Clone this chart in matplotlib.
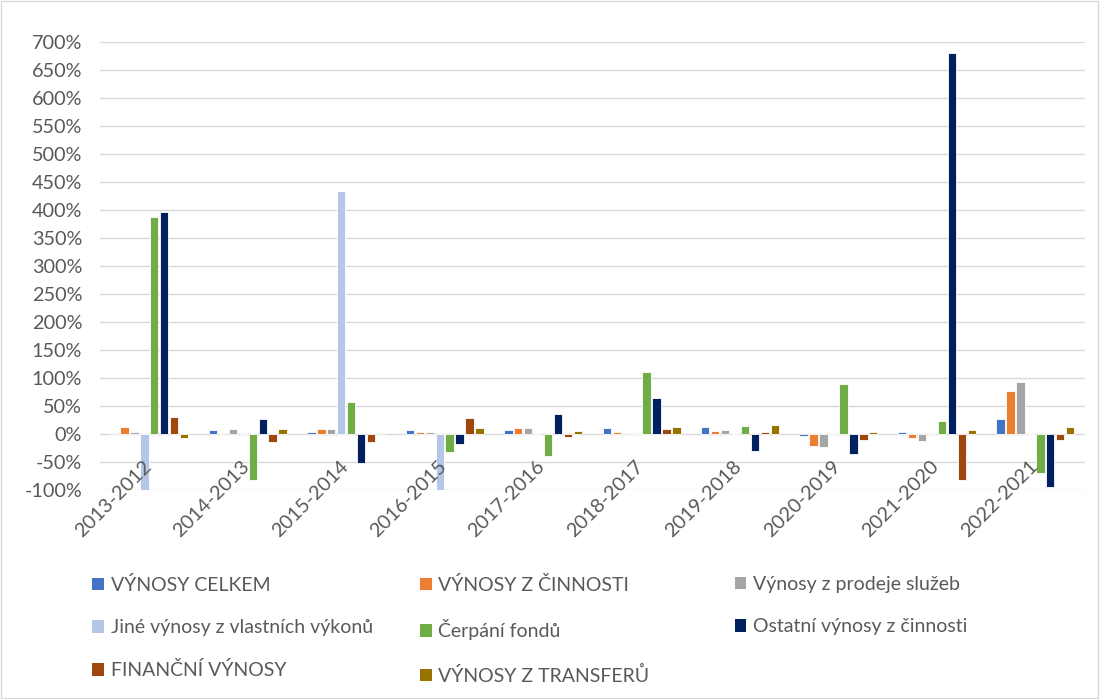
import numpy as np
import matplotlib
matplotlib.use("Agg")
import matplotlib.pyplot as plt
from matplotlib.patches import Rectangle, Patch
from matplotlib.transforms import ScaledTranslation

plt.rcParams['font.family'] = ['Lato', 'DejaVu Sans']

# Data (values in %)
periods = ['2013-2012', '2014-2013', '2015-2014', '2016-2015', '2017-2016',
           '2018-2017', '2019-2018', '2020-2019', '2021-2020', '2022-2021']

vynosy_celkem = [1, 7, 4, 8, 7, 10, 12.5, -4, 3, 27]
vynosy_z_cinnosti = [12, 1, 9, 3, 10, 3, 6, -22, -7, 76]
vynosy_sluzby = [4, 9, 9, 3, 11, 2, 6.5, -24, -13, 92]
jine_vynosy = [-100, 0, 433, -100, 0, 0, 0, 0, 0, 0]
cerpani_fondu = [388, -83, 57, -33, -40, 110, 14, 90, 24, -70]
ostatni_vynosy = [396, 26, -52, -18, 35, 65, -30, -35, 680, -95]
financni_vynosy = [31, -14, -15, 29, -6, 9, 4, -11, -82, -10]
vynosy_transfery = [-6.5, 9, 1, 11, 6, 13, 16, 4, 7.5, 12]

series_names = ['VÝNOSY CELKEM', 'VÝNOSY Z ČINNOSTI', 'Výnosy z prodeje služeb',
                'Jiné výnosy z vlastních výkonů', 'Čerpání fondů',
                'Ostatní výnosy z činnosti', 'FINANČNÍ VÝNOSY', 'VÝNOSY Z TRANSFERŮ']
series_values = [vynosy_celkem, vynosy_z_cinnosti, vynosy_sluzby, jine_vynosy,
                 cerpani_fondu, ostatni_vynosy, financni_vynosy, vynosy_transfery]
colors = ['#4472C4', '#ED7D31', '#A5A5A5', '#B4C7E7', '#70AD47', '#002060',
          '#9E480E', '#997300']

fs = 14.3

fig = plt.figure(figsize=(11, 6.99), dpi=100)
ax = fig.add_axes([0.091, 0.299, 0.895, 0.641])

x = np.arange(len(periods))
n = len(series_names)
pitch = 0.101
width = 0.085
for i, (name, vals, c) in enumerate(zip(series_names, series_values, colors)):
    offs = (i - (n - 1) / 2) * pitch
    ax.bar(x + offs, vals, width=width, color=c, edgecolor='white',
           linewidth=0.6, label=name, zorder=2)

ax.set_xlim(-0.5, len(periods) - 0.5)
ax.set_ylim(-100, 700)
yt = np.arange(-100, 701, 50)
ax.set_yticks(yt)
ax.set_yticklabels([f'{v}%' for v in yt])
# gridlines drawn under the bars, tick labels on top
for v in yt:
    ax.axhline(v, color='#d9d9d9', linewidth=1, zorder=0)
ax.set_axisbelow(False)

for s in ax.spines.values():
    s.set_visible(False)
ax.spines['bottom'].set_position(('data', 0))
ax.tick_params(axis='y', length=0, labelsize=fs, labelcolor='#595959', pad=13)
ax.tick_params(axis='x', length=0, labelsize=fs, labelcolor='#595959', pad=17)
ax.set_xticks(x)
ax.set_xticklabels(periods, rotation=45, ha='right', va='top',
                   rotation_mode='anchor')
shift = ScaledTranslation(-7 / 100, 0, fig.dpi_scale_trans)
for lbl in ax.get_xticklabels():
    lbl.set_transform(lbl.get_transform() + shift)

# legend in three columns, Excel-like uniform widths
handles = [Patch(facecolor=c, edgecolor='none') for c in colors]
cols = [[0, 3, 6], [1, 4, 7], [2, 5]]
col_x = [0.075, 0.373, 0.659]
for cx, idx in zip(col_x, cols):
    fig.legend([handles[k] for k in idx], [series_names[k] for k in idx],
               loc='upper left', bbox_to_anchor=(cx, 0.19), frameon=False,
               fontsize=14, labelcolor='#595959', handlelength=0.6,
               handleheight=0.6, handletextpad=0.35, labelspacing=1.3,
               borderpad=0)

fig.patches.append(Rectangle((0.001, 0.002), 0.997, 0.996, transform=fig.transFigure,
                             fill=False, edgecolor='#d9d9d9', linewidth=1))

fig.savefig('out.png', dpi=100)
